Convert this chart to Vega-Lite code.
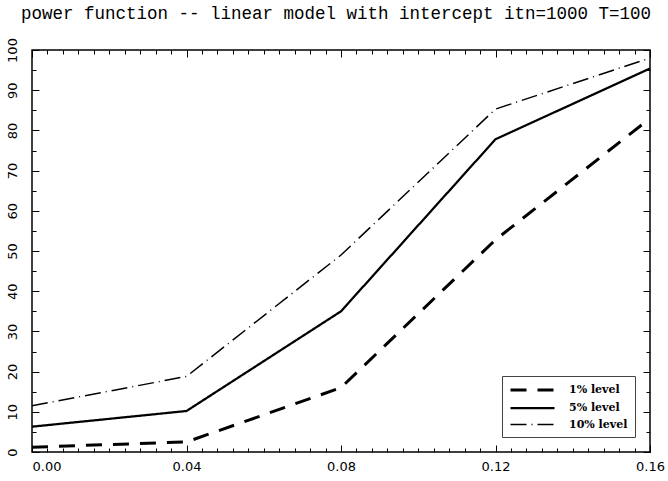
{
  "$schema": "https://vega.github.io/schema/vega-lite/v6.json",
  "width": 618,
  "height": 402,
  "autosize": "none",
  "padding": {"left": 32, "top": 50, "right": 18, "bottom": 29},
  "background": "white",
  "title": {
    "text": "power function -- linear model with intercept itn=1000 T=100",
    "anchor": "start",
    "frame": "group",
    "dx": -11,
    "offset": 15,
    "font": "Liberation Mono",
    "fontSize": 17.5,
    "fontWeight": "normal",
    "color": "black"
  },
  "config": {
    "view": {"stroke": "black", "strokeWidth": 1.5},
    "axis": {"domain": false, "grid": false, "title": null, "tickColor": "black", "labelColor": "black"}
  },
  "data": {
    "values": [
      {"level": "1% level", "shift": 0.00, "power": 1.2},
      {"level": "1% level", "shift": 0.04, "power": 2.5},
      {"level": "1% level", "shift": 0.08, "power": 16},
      {"level": "1% level", "shift": 0.12, "power": 52.8},
      {"level": "1% level", "shift": 0.16, "power": 83},
      {"level": "5% level", "shift": 0.00, "power": 6.3},
      {"level": "5% level", "shift": 0.04, "power": 10.2},
      {"level": "5% level", "shift": 0.08, "power": 35},
      {"level": "5% level", "shift": 0.12, "power": 77.8},
      {"level": "5% level", "shift": 0.16, "power": 95.4},
      {"level": "10% level", "shift": 0.00, "power": 11.5},
      {"level": "10% level", "shift": 0.04, "power": 18.8},
      {"level": "10% level", "shift": 0.08, "power": 49},
      {"level": "10% level", "shift": 0.12, "power": 85.3},
      {"level": "10% level", "shift": 0.16, "power": 98}
    ]
  },
  "resolve": {"axis": {"x": "independent", "y": "independent"}},
  "layer": [
    {
      "mark": {"type": "line", "color": "black", "strokeCap": "butt"},
      "encoding": {
        "x": {
          "field": "shift", "type": "quantitative",
          "scale": {"domain": [0, 0.16], "nice": false, "zero": false},
          "axis": {
            "orient": "bottom", "ticks": false, "labelPadding": 8,
            "values": [0, 0.04, 0.08, 0.12, 0.16], "format": ".2f",
            "labelFont": "DejaVu Sans", "labelFontSize": 13,
            "labelAlign": {"condition": {"test": "datum.value < 0.001", "value": "left"}, "value": "center"},
            "labelOverlap": false
          }
        },
        "y": {
          "field": "power", "type": "quantitative",
          "scale": {"domain": [0, 100], "nice": false},
          "axis": {
            "orient": "left", "ticks": false, "labelPadding": 13,
            "values": [0, 10, 20, 30, 40, 50, 60, 70, 80, 90, 100],
            "labelAngle": -90, "labelAlign": "center", "labelBaseline": "bottom",
            "labelFont": "DejaVu Sans", "labelFontSize": 13, "labelOverlap": false
          }
        },
        "strokeDash": {
          "field": "level", "type": "ordinal",
          "scale": {"domain": ["1% level", "5% level", "10% level"], "range": [[16, 11], [1, 0], [16, 5, 1, 5]]},
          "legend": {
            "title": null, "orient": "none", "legendX": 470, "legendY": 326,
            "fillColor": "white", "strokeColor": "#444", "padding": 7,
            "labelFont": "DejaVu Serif", "labelFontWeight": "bold", "labelFontSize": 11,
            "labelColor": "black", "symbolType": "M-1,0H7", "symbolSize": 121,
            "symbolStrokeColor": "black", "rowPadding": 5, "labelOffset": 46
          }
        },
        "strokeWidth": {
          "field": "level", "type": "ordinal",
          "scale": {"domain": ["1% level", "5% level", "10% level"], "range": [3, 1.5, 1.5]},
          "legend": null
        }
      }
    },
    {
      "mark": {"type": "point", "opacity": 0},
      "encoding": {
        "x": {
          "field": "shift", "type": "quantitative",
          "axis": {
            "orient": "bottom", "labels": false,
            "values": [0, 0.004, 0.008, 0.012, 0.016, 0.02, 0.024, 0.028, 0.032, 0.036, 0.04, 0.044, 0.048, 0.052, 0.056, 0.06, 0.064, 0.068, 0.072, 0.076, 0.08, 0.084, 0.088, 0.092, 0.096, 0.1, 0.104, 0.108, 0.112, 0.116, 0.12, 0.124, 0.128, 0.132, 0.136, 0.14, 0.144, 0.148, 0.152, 0.156, 0.16],
            "tickSize": {"condition": {"test": "abs(datum.value * 25 - round(datum.value * 25)) < 0.001", "value": -7}, "value": -4}
          }
        },
        "y": {
          "field": "power", "type": "quantitative",
          "axis": {
            "orient": "left", "labels": false,
            "values": [0, 5, 10, 15, 20, 25, 30, 35, 40, 45, 50, 55, 60, 65, 70, 75, 80, 85, 90, 95, 100],
            "tickSize": {"condition": {"test": "datum.value % 10 == 0", "value": -7}, "value": -4}
          }
        }
      }
    },
    {
      "mark": {"type": "point", "opacity": 0},
      "encoding": {
        "x": {
          "field": "shift", "type": "quantitative",
          "axis": {
            "orient": "top", "labels": false,
            "values": [0, 0.004, 0.008, 0.012, 0.016, 0.02, 0.024, 0.028, 0.032, 0.036, 0.04, 0.044, 0.048, 0.052, 0.056, 0.06, 0.064, 0.068, 0.072, 0.076, 0.08, 0.084, 0.088, 0.092, 0.096, 0.1, 0.104, 0.108, 0.112, 0.116, 0.12, 0.124, 0.128, 0.132, 0.136, 0.14, 0.144, 0.148, 0.152, 0.156, 0.16],
            "tickSize": {"condition": {"test": "abs(datum.value * 25 - round(datum.value * 25)) < 0.001", "value": -7}, "value": -4}
          }
        },
        "y": {
          "field": "power", "type": "quantitative",
          "axis": {
            "orient": "right", "labels": false,
            "values": [0, 5, 10, 15, 20, 25, 30, 35, 40, 45, 50, 55, 60, 65, 70, 75, 80, 85, 90, 95, 100],
            "tickSize": {"condition": {"test": "datum.value % 10 == 0", "value": -7}, "value": -4}
          }
        }
      }
    }
  ]
}
